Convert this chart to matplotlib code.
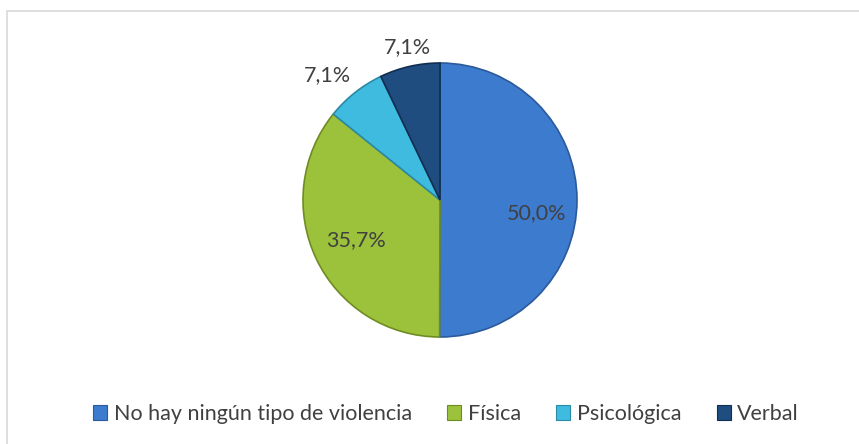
import matplotlib.pyplot as plt
import numpy as np
from matplotlib.patches import Rectangle

categories = ["No hay ningún tipo de violencia", "Física", "Psicológica", "Verbal"]
shares = [50.0, 35.7, 7.1, 7.1]
labels = ["50,0%", "35,7%", "7,1%", "7,1%"]

COLOURS = ["#3D7BCE", "#9CC23C", "#3EBBDF", "#1F4D80"]
EDGES = ["#2A5A9A", "#6E8C22", "#2A8AA8", "#112E50"]
# label placement as (radius fraction, angle in degrees)
LABEL_POS = [(0.71, -8), (0.68, 205.5), (1.23, 132), (1.14, 102)]
TEXT_COLOUR = "#404040"

plt.rcParams["font.family"] = ["Lato", "DejaVu Sans"]

fig = plt.figure(figsize=(8.59, 4.44), dpi=100)
W, H = 859, 444

# chart border (only top and left edges are visible)
fig.patches.append(
    Rectangle((7 / W, -0.1), 1.2, 1.1 - 11 / H, transform=fig.transFigure,
              fill=False, edgecolor="#D9D9D9", linewidth=1.2)
)

cx, cy, r = 440, 200, 137
ax = fig.add_axes([(cx - r) / W, (H - cy - r) / H, 2 * r / W, 2 * r / H])
wedges, _ = ax.pie(
    shares, colors=COLOURS, startangle=90, counterclock=False,
    wedgeprops=dict(linewidth=1.2), radius=1.0,
)
for w, ec in zip(wedges, EDGES):
    w.set_edgecolor(ec)
ax.set_xlim(-1, 1)
ax.set_ylim(-1, 1)
ax.set_aspect("equal")
ax.axis("off")

for text, (rad, ang) in zip(labels, LABEL_POS):
    a = np.deg2rad(ang)
    ax.text(rad * np.cos(a), rad * np.sin(a), text, ha="center", va="center",
            fontsize=15.5, color=TEXT_COLOUR, clip_on=False)

handles = [Rectangle((0, 0), 1, 1, facecolor=c, edgecolor=e, linewidth=0.8)
           for c, e in zip(COLOURS, EDGES)]
fig.legend(handles, categories, loc="center", bbox_to_anchor=(446 / W, 1 - 414 / H),
           ncol=4, frameon=False, fontsize=15.5, handlelength=0.65, handleheight=0.65,
           handletextpad=0.3, columnspacing=1.65, labelcolor=TEXT_COLOUR,
           borderpad=0, borderaxespad=0)

fig.savefig("out.png", dpi=100)
